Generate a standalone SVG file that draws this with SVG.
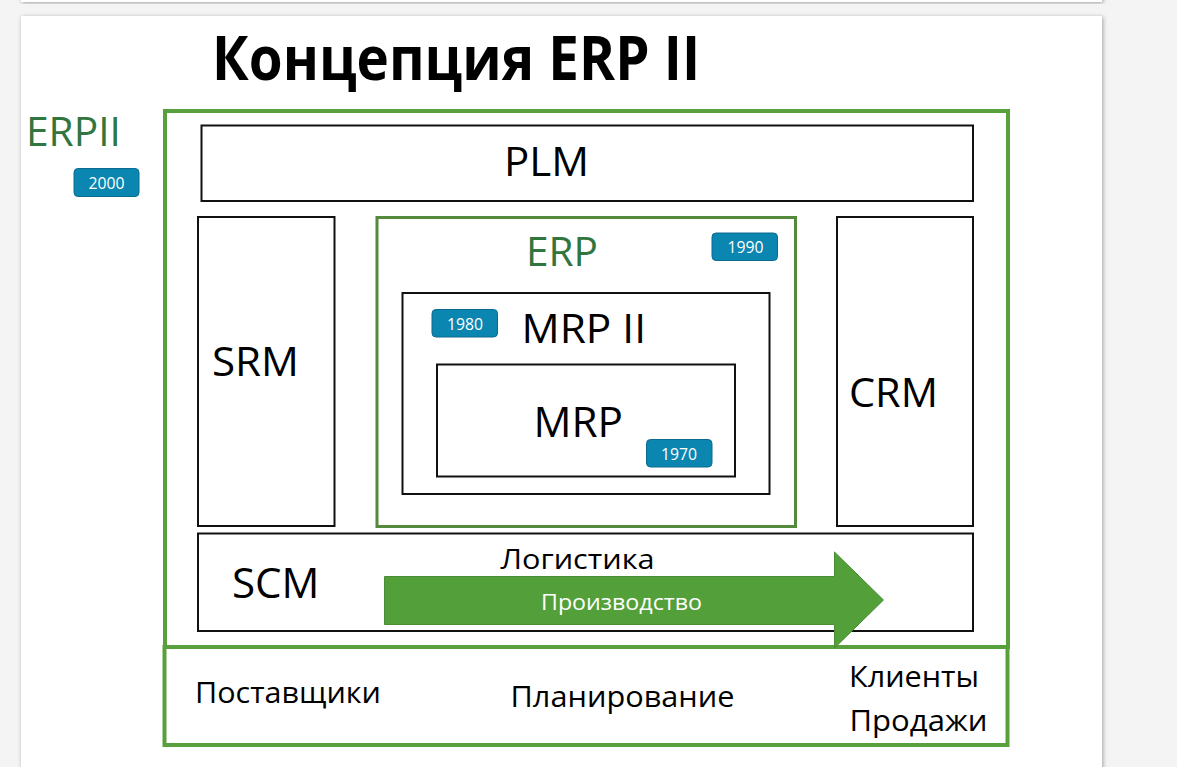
<svg xmlns="http://www.w3.org/2000/svg" width="1177" height="767" viewBox="0 0 1177 767">
  <defs>
    <filter id="shadow" x="-5%" y="-5%" width="110%" height="110%">
      <feDropShadow dx="1" dy="1" stdDeviation="2.2" flood-color="#000" flood-opacity="0.35"/>
    </filter>
    <style>
      .t { font-family: "Open Sans", "Noto Sans", "DejaVu Sans", sans-serif; fill: #000; }
      .box { fill: none; stroke: #111; stroke-width: 2; }
      .gbox { fill: none; stroke: #58a03d; stroke-width: 4; }
      .gtxt { fill: #31753f; }
      .badge rect { fill: #0b86b1; stroke: #0a6b8e; stroke-width: 1; }
      .badge text { font-family: "Open Sans", "Noto Sans", sans-serif; font-size: 16px; fill: #fff; }
    </style>
  </defs>

  <!-- background -->
  <rect x="0" y="0" width="1177" height="767" fill="#f4f4f4"/>
  <rect x="21" y="-20" width="1081" height="22" fill="#fff" filter="url(#shadow)"/>
  <rect x="21" y="16" width="1081" height="780" fill="#fff" filter="url(#shadow)"/>

  <!-- title -->
  <g id="title">
    <text class="t" x="212" y="80" font-size="60" font-weight="bold" textLength="488" lengthAdjust="spacingAndGlyphs">Концепция ERP II</text>
  </g>

  <!-- ERP II label and badge -->
  <g id="erp2-label">
    <text class="t gtxt" x="26" y="146" font-size="40.5" textLength="95" lengthAdjust="spacingAndGlyphs">ERPII</text>
    <g class="badge">
      <rect x="74" y="168.5" width="65" height="28" rx="4"/>
      <text x="88.5" y="189" textLength="36" lengthAdjust="spacingAndGlyphs">2000</text>
    </g>
  </g>

  <!-- outer ERP II box -->
  <g id="erp2-box">
    <rect class="gbox" x="165" y="111" width="843" height="536"/>
  </g>

  <!-- bottom band -->
  <g id="bottom-band">
    <rect class="gbox" x="164.5" y="647" width="843" height="98"/>
    <text class="t" x="195" y="703" font-size="29.5" textLength="186" lengthAdjust="spacingAndGlyphs">Поставщики</text>
    <text class="t" x="510.5" y="707" font-size="29.5" textLength="224" lengthAdjust="spacingAndGlyphs">Планирование</text>
    <text class="t" x="849" y="686.5" font-size="29.5" textLength="130" lengthAdjust="spacingAndGlyphs">Клиенты</text>
    <text class="t" x="849.5" y="730.5" font-size="29.5" textLength="138" lengthAdjust="spacingAndGlyphs">Продажи</text>
  </g>

  <!-- PLM -->
  <g id="plm">
    <rect class="box" x="201.5" y="125.5" width="771.5" height="75.5"/>
    <text class="t" x="504" y="176" font-size="40.5" textLength="85" lengthAdjust="spacingAndGlyphs">PLM</text>
  </g>

  <!-- SRM -->
  <g id="srm">
    <rect class="box" x="198" y="217" width="136.5" height="309"/>
    <text class="t" x="212" y="376" font-size="40.5" textLength="87" lengthAdjust="spacingAndGlyphs">SRM</text>
  </g>

  <!-- CRM -->
  <g id="crm">
    <rect class="box" x="837" y="217" width="136" height="309"/>
    <text class="t" x="849" y="407" font-size="40.5" textLength="89" lengthAdjust="spacingAndGlyphs">CRM</text>
  </g>

  <!-- ERP -->
  <g id="erp">
    <rect x="377" y="217.5" width="418.5" height="309" fill="none" stroke="#538a3c" stroke-width="3"/>
    <text class="t gtxt" x="526" y="266" font-size="39.5" textLength="72" lengthAdjust="spacingAndGlyphs">ERP</text>
    <g class="badge">
      <rect x="712" y="233" width="65.5" height="27.5" rx="4"/>
      <text x="727.5" y="253.3" textLength="36" lengthAdjust="spacingAndGlyphs">1990</text>
    </g>
  </g>

  <!-- MRP II -->
  <g id="mrp2">
    <rect class="box" x="402.5" y="293" width="367" height="201"/>
    <text class="t" x="521.5" y="343.3" font-size="40.5" textLength="124.5" lengthAdjust="spacingAndGlyphs">MRP II</text>
    <g class="badge">
      <rect x="432" y="309.5" width="65.5" height="27.5" rx="4"/>
      <text x="447" y="330" textLength="36" lengthAdjust="spacingAndGlyphs">1980</text>
    </g>
  </g>

  <!-- MRP -->
  <g id="mrp">
    <rect class="box" x="437" y="364.5" width="298" height="112"/>
    <text class="t" x="533.5" y="436.7" font-size="42" textLength="89.5" lengthAdjust="spacingAndGlyphs">MRP</text>
    <g class="badge">
      <rect x="646.5" y="439.5" width="65.5" height="27.5" rx="4"/>
      <text x="661" y="460" textLength="36" lengthAdjust="spacingAndGlyphs">1970</text>
    </g>
  </g>

  <!-- SCM -->
  <g id="scm">
    <rect class="box" x="198" y="533.5" width="775" height="97.5"/>
    <text class="t" x="232" y="598.3" font-size="42" textLength="87.5" lengthAdjust="spacingAndGlyphs">SCM</text>
    <text class="t" x="500.5" y="568.5" font-size="28" textLength="154" lengthAdjust="spacingAndGlyphs">Логистика</text>
  </g>

  <!-- production arrow -->
  <g id="connectors">
    <g id="production-arrow">
      <polygon points="384.5,576.5 834.5,576.5 834.5,552 883.5,600 834.5,648 834.5,624.5 384.5,624.5" fill="#53a03a" stroke="#4a8d35" stroke-width="1"/>
      <text x="541" y="610" font-family="Open Sans, Noto Sans, sans-serif" font-size="22.5" fill="#fff" textLength="161" lengthAdjust="spacingAndGlyphs">Производство</text>
    </g>
  </g>
</svg>
